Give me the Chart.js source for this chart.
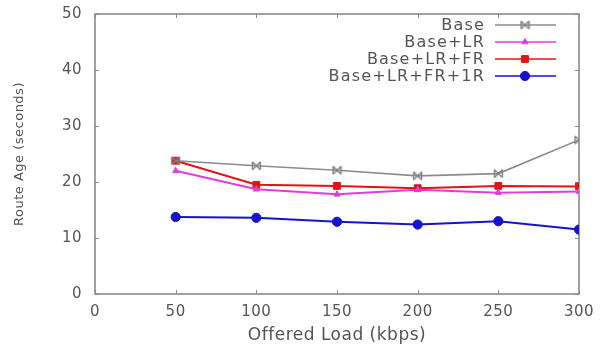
<!DOCTYPE html>
<html><head><meta charset="utf-8">
<script src="https://cdn.jsdelivr.net/npm/chart.js@4"></script>
<style>html,body{margin:0;padding:0;background:#fff}#wrap{width:600px;height:347px}</style>
</head><body><div id="wrap"><canvas id="c" width="600" height="347"></canvas></div>
<script>
const loads = [50, 100, 150, 200, 250, 300];
const seriesNames = ["Base", "Base+LR", "Base+LR+FR", "Base+LR+FR+1R"];
const baseVals = [23.8, 22.9, 22.1, 21.1, 21.5, 27.5];
const lrVals = [22.0, 18.7, 17.8, 18.6, 18.1, 18.3];
const frVals = [23.8, 19.5, 19.3, 18.9, 19.3, 19.2];
const oneRVals = [13.75, 13.6, 12.9, 12.4, 13.0, 11.5];
const xTicks = [0, 50, 100, 150, 200, 250, 300];
const yTicks = [0, 10, 20, 30, 40, 50];

const FONT = '"DejaVu Sans", sans-serif';
const TXT = '#555555';

// bow-tie marker for the Base series
function bowtie(color) {
  const c = document.createElement('canvas');
  c.width = 11; c.height = 11;
  const g = c.getContext('2d');
  g.strokeStyle = color; g.lineWidth = 1.4;
  g.beginPath();
  g.moveTo(1.5, 1.5); g.lineTo(9.5, 9.5);
  g.moveTo(9.5, 1.5); g.lineTo(1.5, 9.5);
  g.moveTo(1.5, 1.5); g.lineTo(1.5, 9.5);
  g.moveTo(9.5, 1.5); g.lineTo(9.5, 9.5);
  g.stroke();
  return c;
}

const colors = ["#8c8c8c", "#e03ce0", "#e01414", "#1414cc"];
const shapes = [bowtie("#808080"), "triangle", "rect", "circle"];
const radii = [5, 3.5, 4.8, 4.6];
const valsAll = [baseVals, lrVals, frVals, oneRVals];

const datasets = seriesNames.map((n, i) => ({
  label: n,
  data: loads.map((x, j) => ({x: x, y: valsAll[i][j]})),
  borderColor: colors[i],
  backgroundColor: colors[i],
  borderWidth: i === 0 ? 1.6 : 2,
  pointStyle: shapes[i],
  pointRadius: radii[i],
  pointBorderWidth: 1,
  tension: 0
}));

const legendPlugin = {
  id: 'customLegend',
  beforeDraw(chart) {
    chart.ctx.letterSpacing = '0.5px';
  },
  beforeDatasetsDraw(chart) {
    const ctx = chart.ctx, a = chart.chartArea;
    const xs = chart.scales.x, ysc = chart.scales.y;
    ctx.save();
    ctx.strokeStyle = '#8a8a8a';
    ctx.lineWidth = 1;
    ctx.beginPath();
    xTicks.forEach(v => { const p = Math.round(xs.getPixelForValue(v)) + 0.5;
      ctx.moveTo(p, a.bottom); ctx.lineTo(p, a.bottom - 4);
      ctx.moveTo(p, a.top); ctx.lineTo(p, a.top + 4); });
    yTicks.forEach(v => { const p = Math.round(ysc.getPixelForValue(v)) + 0.5;
      ctx.moveTo(a.left, p); ctx.lineTo(a.left + 4, p);
      ctx.moveTo(a.right, p); ctx.lineTo(a.right - 4, p); });
    ctx.stroke();
    ctx.lineWidth = 1.6;
    ctx.strokeRect(a.left, a.top, a.right - a.left, a.bottom - a.top);
    ctx.restore();
  },
  afterDatasetsDraw(chart) {
    const ctx = chart.ctx;
    ctx.save();
    ctx.font = '16px ' + FONT;
    ctx.letterSpacing = '1.2px';
    ctx.textAlign = 'right';
    ctx.textBaseline = 'middle';
    const ys = [25, 42, 59, 76];
    datasets.forEach((d, i) => {
      const y = ys[i];
      ctx.fillStyle = TXT;
      ctx.fillText(d.label, 485, y + 1);
      ctx.strokeStyle = d.borderColor;
      ctx.lineWidth = 1.6;
      ctx.beginPath(); ctx.moveTo(495, y); ctx.lineTo(556, y); ctx.stroke();
      ctx.fillStyle = d.backgroundColor;
      ctx.strokeStyle = d.borderColor;
      ctx.lineWidth = 1;
      Chart.helpers.drawPoint(ctx, {pointStyle: d.pointStyle, radius: d.pointRadius, rotation: 0, borderWidth: 1}, 525, y);
    });
    ctx.restore();
  }
};

new Chart(document.getElementById('c'), {
  type: 'line',
  data: { datasets: datasets },
  plugins: [legendPlugin],
  options: {
    responsive: false,
    animation: false,
    layout: { padding: { left: 0, right: 21, top: 14, bottom: 0 } },
    plugins: { legend: { display: false }, tooltip: { enabled: false } },
    scales: {
      x: {
        type: 'linear', min: 0, max: 300,
        afterBuildTicks: s => { s.ticks = xTicks.map(v => ({value: v})); },
        afterFit: s => { s.height = 53; s.paddingLeft = 0; s.paddingRight = 0; },
        grid: { display: false, drawTicks: false },
        border: { display: false },
        ticks: { color: TXT, font: { size: 15, family: FONT }, padding: 9, maxRotation: 0 },
        title: { display: true, text: 'Offered Load (kbps)', color: TXT, font: { size: 17, family: FONT }, padding: { top: 0, bottom: 1 } }
      },
      y: {
        min: 0, max: 50,
        afterBuildTicks: s => { s.ticks = yTicks.map(v => ({value: v})); },
        afterFit: s => { s.width = 95; s.paddingTop = 0; s.paddingBottom = 0; },
        grid: { display: false, drawTicks: false },
        border: { display: false },
        ticks: { color: TXT, font: { size: 15, family: FONT }, padding: 13 },
        title: { display: true, text: 'Route Age (seconds)', color: TXT, font: { size: 13, family: FONT }, padding: { top: 12, bottom: 0 } }
      }
    }
  }
});
</script>
</body></html>
